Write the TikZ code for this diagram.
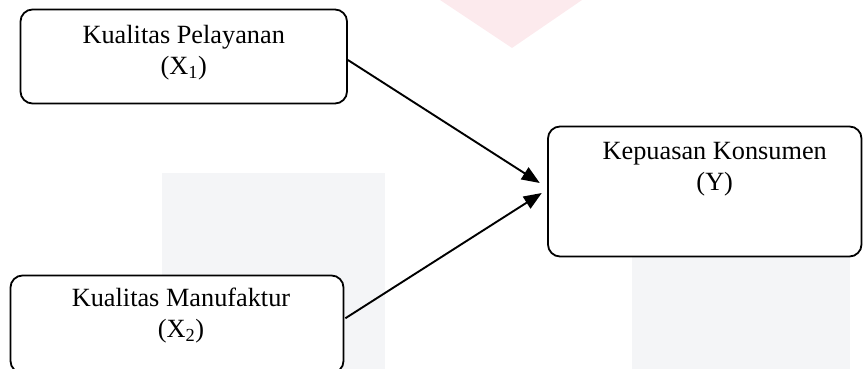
\documentclass[tikz,border=0pt]{standalone}
\usepackage{fontspec}
\setmainfont{Liberation Serif}
\usetikzlibrary{arrows.meta,calc}
\definecolor{markgrey}{RGB}{244,245,247}
\definecolor{markpink}{RGB}{252,234,237}
\tikzset{
  varbox/.style={draw, fill=white, line width=1.8pt, rounded corners=12pt, inner sep=0pt},
  vartext/.style={anchor=north, inner sep=0pt, align=center,
                  font=\fontsize{26.3}{31.5}\selectfont},
  link/.style={line width=1.9pt, -{Triangle[length=18pt,width=14pt]}},
}
\begin{document}
\begin{tikzpicture}[x=1pt,y=-1pt]
\useasboundingbox (0,0) rectangle (863,369);

% faint background marks
\fill[markpink] (440,0) -- (582,0) -- (512,48) -- cycle;
\fill[markgrey] (162,173) rectangle (385,369);
\fill[markgrey] (632,257) rectangle (850,369);

% variable boxes
\node[varbox, minimum width=326.5pt, minimum height=94pt] (x1) at (183.75,56.5) {};
\node[varbox, minimum width=333pt, minimum height=97.5pt] (x2) at (177,324.25) {};
\node[varbox, minimum width=313.5pt, minimum height=130pt] (y) at (704.75,191.5) {};

% box captions
\node[vartext] (t1) at ($(x1.north)+(0,16)$) {Kualitas Pelayanan\\(X\textsubscript{1})};
\node[vartext] (t2) at ($(x2.north)+(4,13)$) {Kualitas Manufaktur\\(X\textsubscript{2})};
\node[vartext] (ty) at ($(y.north)+(10,16)$) {Kepuasan Konsumen\\(Y)};

% influences
\draw[link] ($(x1.east)+(0,3.5)$) -- ($(y.west)+(-7.3,-8.5)$);
\draw[link] ($(x2.east)+(1,-6)$) -- ($(y.west)+(-5.3,1.5)$);
\end{tikzpicture}
\end{document}
